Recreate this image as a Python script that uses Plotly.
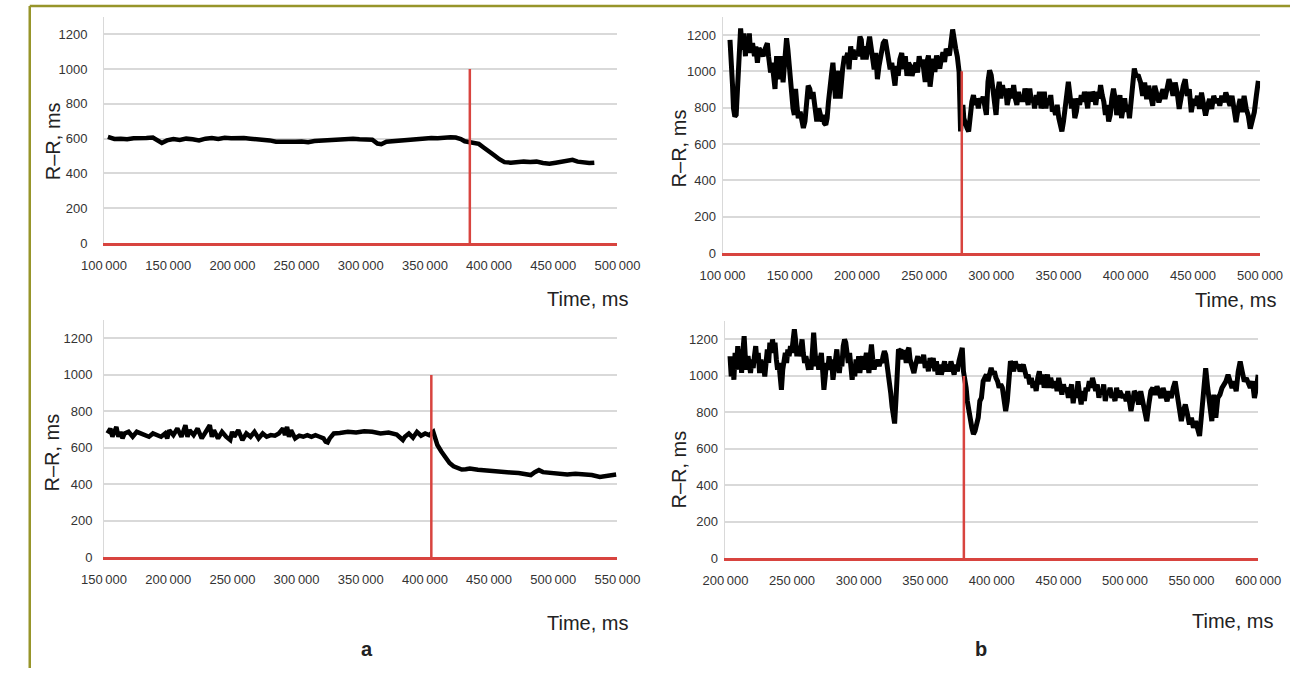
import plotly.graph_objects as go

W, H = 1313, 676

# ---------------- data ----------------
# Panel a (top): R-R intervals, ms
a1_time = [103000,108000,113000,118000,123000,128000,133000,138000,142000,145000,
           149000,154000,159000,164000,169000,174000,179000,184000,189000,194000,
           199000,204000,209000,214000,219000,224000,229000,234000,239000,244000,
           249000,254000,259000,264000,269000,274000,279000,284000,289000,294000,
           299000,304000,309000,313000,316000,320000,325000,330000,335000,340000,
           345000,350000,355000,360000,365000,370000,374000,378000,381000,384000,
           388000,392000,396000,400000,404000,408000,412000,417000,422000,427000,
           432000,437000,442000,447000,452000,457000,462000,465000,469000,474000,
           478000,482000]
a1_rr = [610,598,600,596,602,600,604,606,592,575,
         590,598,592,600,596,590,600,603,598,605,
         602,606,604,600,598,597,590,582,584,585,
         582,583,580,586,588,590,596,594,596,600,
         597,598,594,572,568,582,585,590,595,598,
         603,600,604,602,606,608,606,598,585,582,
         578,570,548,530,505,482,465,462,466,468,
         466,468,460,456,462,466,472,478,468,462,
         460,462]
a1_event = 385000

# Panel a (bottom)
a2_time = [152700,154900,156500,158000,159600,161200,162800,164400,166000,169100,
           172300,175500,178600,181800,185000,188100,191300,194400,197600,199200,
           200800,204000,207100,210300,213400,215000,216600,219800,222900,226100,
           229300,232400,234000,235600,238800,241900,245100,248300,249800,251400,
           254600,257800,260900,264100,267200,270400,273600,276700,279900,283100,
           286200,289400,291000,292600,294100,295700,298900,302100,305200,308400,
           311600,314700,317900,321000,322600,324200,325800,329000,333700,340000,
           346400,352700,359000,365400,371700,378000,382800,384400,387500,390700,
           393800,397000,400200,403300,406500,408100,409700,412800,416000,419200,
           422300,425500,428700,431800,435000,441300,447700,454000,460300,466600,
           473000,479300,482500,485600,488800,492000,498300,504600,510900,517300,
           523600,530000,536300,542600,549000]
a2_rr = [679,706,661,697,715,661,688,652,679,688,
         661,688,679,670,661,679,667,661,679,652,
         697,670,706,661,724,661,697,670,706,652,
         688,724,661,697,652,688,661,643,688,661,
         697,643,679,661,688,652,679,661,670,667,
         679,706,670,715,661,697,652,667,661,670,
         661,670,661,652,634,630,652,679,682,688,
         684,691,688,679,684,673,643,661,679,656,
         688,667,679,670,688,643,616,580,544,517,
         499,487,481,483,487,480,476,467,463,465,
         462,454,451,467,478,467,462,458,454,458,
         454,451,440,445,454]
a2_event = 405000

# Panel b (top)
b1_time = [105500,106200,107000,107400,108100,109100,110100,111000,111700,112700,
           113400,114100,115100,115800,117000,117700,118900,119900,120800,122300,
           123700,124700,125900,127100,128500,130200,131400,133300,134200,135700,
           136900,138100,139000,140200,141400,142900,143800,145000,146200,147600,
           148600,149600,151000,152400,153400,154300,155300,156300,157700,158900,
           160100,161300,162500,163700,164900,166100,167300,168200,169200,170100,
           171600,172800,174000,174900,175700,176800,177800,178800,179700,181200,
           182100,183100,184000,185200,186400,187400,188300,189300,190700,191700,
           193100,194100,195300,196200,197200,198400,199600,200800,202200,203200,
           204400,205600,206800,208000,209400,210400,211600,212800,214000,215200,
           216400,217500,219500,221100,222300,223500,224700,225900,227100,228300,
           229500,230700,231900,233300,234800,236000,237200,238400,239600,241000,
           242200,243900,245100,246300,247500,248700,249600,250800,252000,253200,
           254400,255600,256800,258000,259200,260400,261600,262800,264000,265200,
           266400,268800,271200,273500,274700,276000,276400,277100,277900,278800,
           279500,280700,281900,283100,284300,285500,286700,287900,289100,290300,
           291500,292700,293900,295100,296300,297500,298700,299900,301100,302300,
           303500,304700,305900,307100,308300,309500,310700,311800,313000,314200,
           315400,316600,317800,319000,320200,321400,322600,323800,325000,326200,
           327400,328600,329800,331000,332200,333400,334600,335800,337000,338200,
           339400,340600,341800,343000,344200,345400,346600,347800,349000,350200,
           351400,352500,353700,354900,356100,357300,358500,359700,360900,362100,
           363300,364500,365700,366900,368100,369300,370500,371700,372900,374100,
           375300,376500,377700,378900,380100,381300,382500,383700,384900,386100,
           387300,388500,389700,390900,392100,393300,394500,395700,396900,398000,
           399200,400400,401600,402800,404000,405200,406400,407600,409500,411100,
           412600,414100,415600,417100,418600,420100,421600,423200,424700,426200,
           427700,429200,430700,432200,433700,435200,436800,438300,439800,441300,
           442800,444300,445800,447300,448800,450400,451900,453400,454900,456400,
           457900,459400,460900,462400,464000,465500,467000,468500,470000,471500,
           473000,474500,476000,477600,479100,480600,482100,483600,485100,486600,
           488100,489700,491200,492700,494200,495700,497200,498700]
b1_rr = [1173,1083,1065,921,796,751,760,886,975,1065,
         1236,1173,1119,1209,1083,1191,1101,1209,1101,1155,
         1083,1137,1047,1128,1101,1083,1119,1155,1083,993,
         1047,957,903,1083,957,1011,1083,939,1047,1182,
         1119,1011,921,796,760,903,814,742,778,706,
         688,724,850,921,903,850,886,814,760,724,
         796,742,724,760,715,706,742,832,877,993,
         1047,939,850,957,1002,850,957,1011,1083,1065,
         1101,1011,1137,1083,1119,1065,1110,1083,1191,1173,
         1065,1137,1065,1110,1191,1137,1065,1011,1101,957,
         1029,1065,1155,1173,1119,1065,1011,1047,975,921,
         1029,975,1065,1101,1011,1083,975,1047,1029,975,
         1011,1047,993,1083,1029,1065,1015,942,1051,1087,
         915,1015,1069,996,1087,1051,1015,1069,1105,1051,
         1124,1087,1230,1124,1080,996,796,669,760,815,
         742,705,687,669,760,833,869,815,851,796,
         851,833,860,778,760,942,1005,978,905,778,
         760,887,942,851,924,869,905,815,887,905,
         851,924,851,815,887,833,869,833,905,851,
         815,905,833,851,796,869,815,887,796,833,
         887,796,851,815,869,778,796,760,815,742,
         705,669,724,815,887,942,869,796,851,742,
         778,851,815,869,833,887,851,796,887,833,
         887,869,815,887,851,924,869,833,760,815,
         724,760,851,905,851,760,796,869,742,796,
         851,778,815,742,833,942,1015,978,974,938,
         865,938,847,920,865,811,920,883,829,865,
         901,847,901,956,920,865,938,883,793,865,
         920,956,865,901,775,847,811,865,793,883,
         829,757,811,847,793,865,829,847,811,865,
         829,883,847,811,865,793,720,793,847,775,
         865,793,757,684,739,775,865,947]
b1_event = 278000

# Panel b (bottom)
b2_time = [203400,204300,205300,206300,207200,208200,209200,210100,211100,212100,
           213000,214000,215000,215900,216900,217900,218800,219800,220800,221700,
           222700,223700,224600,225600,226600,227500,228500,229500,230400,231400,
           232400,233300,234300,235300,236200,237200,238200,239100,240100,241000,
           242000,243000,243900,244900,245900,246800,247800,248800,249700,250700,
           251700,252600,253600,254600,255500,256500,257500,258400,259400,260400,
           261300,262300,263300,264200,265200,266200,267100,268100,269100,270000,
           271000,272000,272900,273900,274900,275800,276800,277800,278700,279700,
           280700,281600,282600,283600,284500,285500,286500,287400,288400,289400,
           290300,291300,292200,293200,294200,295100,296100,297100,298000,299000,
           300000,300900,301900,302900,303800,304800,305800,306700,307700,308700,
           309600,310600,311600,312500,313500,314500,315400,316400,317400,318300,
           319300,320300,321200,322200,323200,324100,325100,326100,327000,328000,
           329000,329900,330900,331900,332800,333800,334800,335700,336700,337700,
           338600,339600,340600,341500,342500,343400,344400,345400,346600,347800,
           348800,350000,351200,352400,353600,354800,356000,357200,358400,359600,
           360900,362100,363300,364500,365700,366900,368100,369300,370500,371700,
           372900,374100,375300,376600,377800,378700,379700,380700,381600,382600,
           383800,385000,386200,387400,388600,389800,391000,392200,393500,394700,
           395900,397100,398300,399500,400700,401900,403100,404300,405500,406700,
           407900,409200,410400,411600,412800,414000,415200,416400,417600,418800,
           420000,421200,422400,423600,424900,426100,427300,428500,429700,430900,
           432100,433300,434500,435700,436900,438100,439300,440500,441800,443000,
           444200,445400,446600,447800,449000,450200,451400,452600,453800,455000,
           456200,457500,458700,459900,461100,462300,463500,464700,465900,467100,
           468300,469500,470700,471900,473200,474400,475600,476800,478000,479200,
           480400,481600,482800,484000,485200,486400,487600,488800,490100,491300,
           492500,493700,494900,496100,497300,498500,499700,500900,502100,503300,
           504500,505800,507000,508700,510200,511800,513300,514800,516300,517900,
           519400,520900,522500,524000,525500,527000,528600,530100,531600,533100,
           534700,536200,537700,539200,540800,542300,543800,545300,546900,548400,
           549900,551400,553000,554500,556000,557500,559100,560600,562100,563600,
           565200,566700,568200,569700,571300,572800,574300,575800,577400,578900,
           580400,581900,583500,585000,586500,588000,589600,591100,592600,594100,
           595700,597200,598700,600000]
b2_rr = [1108,997,1090,979,1126,1034,1163,1053,1145,1016,
         1126,1218,1090,1034,1108,1053,1016,1090,1043,1108,
         1163,1071,1126,1016,1090,1034,1071,997,1090,1145,
         1071,1182,1126,1200,1145,1182,1090,1034,1071,997,
         924,1034,1108,1126,1071,1145,1108,1163,1126,1200,
         1255,1200,1108,1163,1108,1145,1200,1126,1071,1108,
         1053,1034,1090,1034,1126,1237,1145,1053,1108,1034,
         1090,1126,1034,924,997,1071,1034,1108,1053,1090,
         979,1053,1108,1145,1071,1016,1090,1053,1163,1200,
         1182,1108,1071,1126,1053,979,1053,997,1090,1034,
         1108,1016,1071,1108,1034,1090,1126,1071,1016,1108,
         1172,1090,1034,1071,1053,1090,1053,1080,1071,1108,
         1136,1117,1071,1034,979,905,831,739,739,868,
         1034,1145,1136,1145,1090,1136,1126,1071,1136,1154,
         1090,1071,1034,1016,1053,1090,1108,1071,1099,1071,
         1116,1044,1080,1025,1098,1044,1098,1025,1080,1007,
         1062,1007,1044,1080,1025,1062,1025,1080,1044,1007,
         1062,1025,1080,1116,1153,1025,989,935,862,807,
         753,716,680,698,735,771,862,880,971,989,
         1007,971,1025,1044,1007,1025,989,971,935,953,
         935,862,807,862,1007,1080,1062,1025,1080,1044,
         1062,1025,1044,1062,1025,989,1007,953,989,935,
         971,917,989,1025,953,1007,935,971,1007,935,
         989,953,935,971,917,989,935,898,953,917,
         935,880,917,953,850,917,880,971,898,844,
         917,862,935,917,971,935,989,935,917,953,
         880,917,898,953,862,917,898,935,880,898,
         862,935,880,917,898,880,898,862,917,844,
         807,862,917,897,843,916,861,807,752,843,
         916,934,897,943,916,879,934,897,861,916,
         879,934,970,897,825,752,807,843,789,734,
         771,716,752,698,671,789,934,1042,934,825,
         752,897,771,879,897,934,952,970,1006,970,
         934,970,916,1024,1079,1024,970,988,952,934,
         970,879,934,1006]
b2_event = 379000

event_top = 1000

yticks = [0, 200, 400, 600, 800, 1000, 1200]
a_xticks_top = [100000, 150000, 200000, 250000, 300000, 350000, 400000, 450000, 500000]
a_xticks_bot = [150000, 200000, 250000, 300000, 350000, 400000, 450000, 500000, 550000]
b_xticks_top = [100000, 150000, 200000, 250000, 300000, 350000, 400000, 450000, 500000]
b_xticks_bot = [200000, 250000, 300000, 350000, 400000, 450000, 500000, 550000, 600000]

x_title = "Time, ms"
y_title = "R–R, ms"
panel_labels = ["a", "b"]

# ---------------- styling ----------------
RED = "#d8443f"
GRID = "#d9d9d9"
TICKFONT = dict(family="Liberation Sans Narrow, Arial Narrow, Liberation Sans, Arial, sans-serif",
                size=13, color="#333333")
TITLEFONT = dict(family="Liberation Sans, Arial, sans-serif", size=20, color="#222222")


def px(x):
    return x / W


def py(y):
    return 1 - y / H


def fmt(v):
    return f"{v // 1000}\u2009000"


fig = go.Figure()

panels = [
    (a1_time, a1_rr, a1_event, a_xticks_top, (84, 616), (17, 246), 4.5, 13),
    (b1_time, b1_rr, b1_event, b_xticks_top, (725, 1282), (17, 256), 5.0, 3),
    (a2_time, a2_rr, a2_event, a_xticks_bot, (84, 616), (324, 564), 4.5, 8),
    (b2_time, b2_rr, b2_event, b_xticks_bot, (728, 1280), (325, 565), 5.0, 4),
]

layout_axes = {}
for i, (t, rr, ev, xt, (x0, x1), (yt, yb), lw, ystd) in enumerate(panels, start=1):
    xa = "x" if i == 1 else f"x{i}"
    ya = "y" if i == 1 else f"y{i}"
    fig.add_trace(go.Scatter(x=t, y=rr, mode="lines", xaxis=xa, yaxis=ya,
                             line=dict(color="black", width=lw), showlegend=False,
                             hoverinfo="skip"))
    fig.add_trace(go.Scatter(x=[ev, ev], y=[0, event_top], mode="lines", xaxis=xa, yaxis=ya,
                             line=dict(color=RED, width=2.5), showlegend=False,
                             hoverinfo="skip"))
    xkey = "xaxis" if i == 1 else f"xaxis{i}"
    ykey = "yaxis" if i == 1 else f"yaxis{i}"
    layout_axes[xkey] = dict(
        domain=[px(x0), px(x1)], anchor=ya, range=[xt[0], xt[-1]],
        tickmode="array", tickvals=xt, ticktext=[fmt(v) for v in xt],
        showgrid=False, zeroline=False, showline=True, linecolor=RED, linewidth=3,
        ticks="", tickfont=TICKFONT, ticklabelstandoff=8,
    )
    layout_axes[ykey] = dict(
        domain=[py(yb), py(yt)], anchor=xa, range=[0, 1300],
        tickmode="array", tickvals=yticks, ticktext=[str(v) for v in yticks],
        showgrid=True, gridcolor=GRID, gridwidth=1.5, zeroline=False,
        showline=True, linecolor=GRID, linewidth=1,
        ticks="", tickfont=TICKFONT, ticklabelstandoff=ystd,
    )

annotations = []
for (cx, cy) in [(31, 143), (680, 150), (30, 458), (680, 475)]:
    annotations.append(dict(text=y_title, x=px(cx), y=py(cy), xref="paper", yref="paper",
                            showarrow=False, textangle=-90, font=TITLEFONT,
                            xanchor="center", yanchor="middle"))
for (cx, cy) in [(585, 303), (1257, 304), (585, 630), (1253, 628)]:
    annotations.append(dict(text=x_title, x=px(cx), y=py(cy), xref="paper", yref="paper",
                            showarrow=False, font=TITLEFONT,
                            xanchor="center", yanchor="middle"))
for lbl, (cx, cy) in zip(panel_labels, [(356, 657), (993, 657)]):
    annotations.append(dict(text=f"<b>{lbl}</b>", x=px(cx), y=py(cy), xref="paper", yref="paper",
                            showarrow=False,
                            font=dict(family="Liberation Sans, Arial, sans-serif", size=20,
                                      color="#222222"),
                            xanchor="center", yanchor="middle"))

BORDER = "#97952a"
shapes = [
    dict(type="line", xref="paper", yref="paper", x0=px(7), x1=1, y0=py(6), y1=py(6),
         line=dict(color=BORDER, width=2.5)),
    dict(type="line", xref="paper", yref="paper", x0=px(7), x1=px(7), y0=py(6), y1=0,
         line=dict(color=BORDER, width=2.5)),
]

fig.update_layout(
    width=W, height=H, autosize=False,
    margin=dict(l=0, r=0, t=0, b=0),
    paper_bgcolor="white", plot_bgcolor="white",
    annotations=annotations, shapes=shapes,
    **layout_axes,
)

fig.write_html(
    "out.html",
    config={"responsive": False, "displayModeBar": False},
    post_script="document.body.style.margin='0';document.body.style.padding='0';"
                "document.body.style.overflow='hidden';"
                "document.documentElement.style.overflow='hidden';",
)
